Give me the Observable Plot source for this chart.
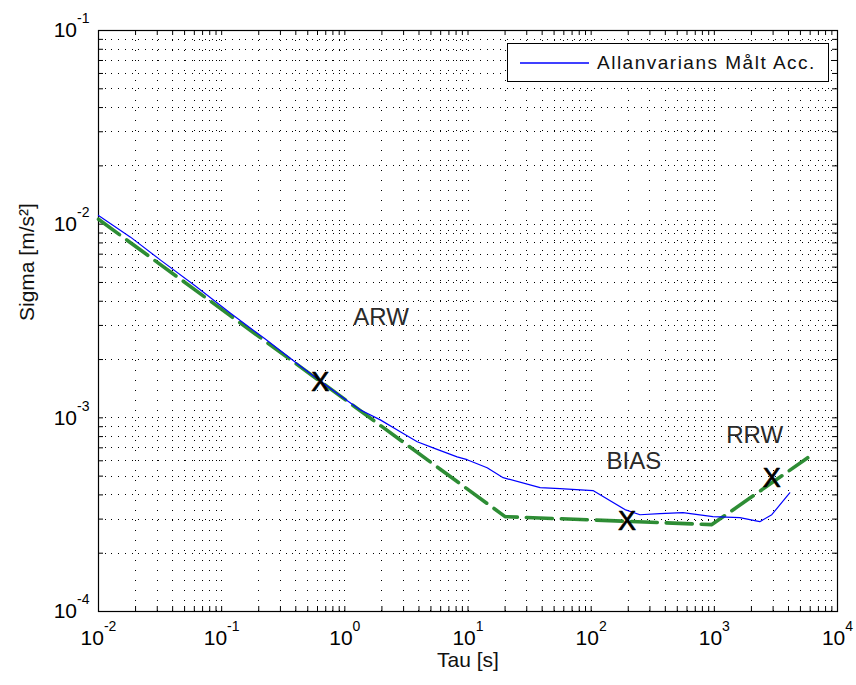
<!DOCTYPE html>
<html>
<head>
<meta charset="utf-8">
<script src="https://cdn.jsdelivr.net/npm/d3@7"></script>
<script src="https://cdn.jsdelivr.net/npm/@observablehq/plot@0.6"></script>
<style>
  html, body { margin: 0; padding: 0; background: #fff; }
  #chart { position: relative; width: 856px; height: 685px; font-family: "Liberation Sans", Arial, sans-serif; }
  #legend {
    position: absolute; left: 507px; top: 43px; width: 320px; height: 37px;
    background: #fff; border: 1px solid #000; display: flex; align-items: center;
  }
  #legend svg { margin-left: 12px; margin-right: 8px; }
  #legend span { font-size: 19px; letter-spacing: 1.5px; color: #111; }
</style>
</head>
<body>
<div id="chart"></div>
<script>
// Allan deviation of the measured accelerometer signal
const tauMeasured = [0.01, 0.0182, 0.0319, 0.0612, 0.118, 0.226, 0.435, 0.631, 0.918, 1.33,
  1.94, 2.82, 3.87, 5.21, 8.16, 9.84, 14.3, 19.3, 38.5, 55.8,
  103.5, 188, 249, 361, 556, 973, 1611, 2339, 2927, 4093];
const sigmaMeasured = [1.11e-2, 8.57e-3, 6.52e-3, 4.79e-3, 3.47e-3, 2.55e-3, 1.85e-3, 1.55e-3, 1.30e-3, 1.10e-3,
  9.76e-4, 8.47e-4, 7.52e-4, 7.00e-4, 6.29e-4, 6.08e-4, 5.52e-4, 4.91e-4, 4.36e-4, 4.31e-4,
  4.21e-4, 3.36e-4, 3.16e-4, 3.20e-4, 3.24e-4, 3.09e-4, 3.05e-4, 2.91e-4, 3.16e-4, 4.10e-4];

// Piecewise noise model (ARW slope, bias floor, rate random walk)
const tauModel = [0.01, 20, 955, 5730];
const sigmaModel = [1.06e-2, 3.09e-4, 2.81e-4, 6.22e-4];

// Points picked on the model
const markTau = [0.631, 195, 2924];
const markSigma = [1.53e-3, 2.91e-4, 4.85e-4];

// Region names
const regionNames = ["ARW", "BIAS", "RRW"];
const regionTau = [1.97, 222, 2128];
const regionSigma = [3.32e-3, 5.93e-4, 8.17e-4];

// Axis ticks (decades and their minor subdivisions)
const xDecades = [1e-2, 1e-1, 1e0, 1e1, 1e2, 1e3, 1e4];
const yDecades = [1e-4, 1e-3, 1e-2, 1e-1];
const subdivisions = [1, 2, 3, 4, 5, 6, 7, 8, 9];

const minorOf = (decades) => decades.flatMap((d, i) => i === decades.length - 1 ? [d] : subdivisions.map(k => k * d));
const xAll = minorOf(xDecades);
const yAll = minorOf(yDecades);

const measured = tauMeasured.map((t, i) => ({tau: t, sigma: sigmaMeasured[i]}));
const model = tauModel.map((t, i) => ({tau: t, sigma: sigmaModel[i]}));
const marks = markTau.map((t, i) => ({tau: t, sigma: markSigma[i]}));
const regions = regionNames.map((n, i) => ({name: n, tau: regionTau[i], sigma: regionSigma[i]}));

const W = 856, H = 685;
const mL = 98, mR = 19, mT = 30, mB = 74;
const innerW = W - mL - mR, innerH = H - mT - mB;
const tick = 5;
const expFormat = d => "10^" + Math.round(Math.log10(d));

const chart = Plot.plot({
  width: W,
  height: H,
  marginLeft: mL,
  marginRight: mR,
  marginTop: mT,
  marginBottom: mB,
  style: {fontFamily: '"Liberation Sans", Arial, sans-serif', background: "#fff", color: "#000"},
  x: {type: "log", domain: [1e-2, 1e4]},
  y: {type: "log", domain: [1e-4, 1e-1]},
  marks: [
    // dotted grid
    Plot.ruleX(xAll, {x: d => d, stroke: "#000", strokeWidth: 1, strokeDasharray: "1,9", shapeRendering: "crispEdges"}),
    Plot.ruleY(yAll, {y: d => d, stroke: "#000", strokeWidth: 1, strokeDasharray: "1,5.7", shapeRendering: "crispEdges"}),
    Plot.frame({stroke: "#000", strokeWidth: 1.2}),
    // inward ticks on all four sides
    Plot.tickX(xAll, {x: d => d, insetTop: innerH - tick, stroke: "#000"}),
    Plot.tickX(xAll, {x: d => d, insetBottom: innerH - tick, stroke: "#000"}),
    Plot.tickY(yAll, {y: d => d, insetRight: innerW - tick, stroke: "#000"}),
    Plot.tickY(yAll, {y: d => d, insetLeft: innerW - tick, stroke: "#000"}),
    // tick labels
    Plot.axisX({ticks: xDecades, tickFormat: expFormat, tickSize: 0, tickPadding: 19, fontSize: 21, label: null}),
    Plot.axisY({ticks: yDecades, tickFormat: expFormat, tickSize: 0, tickPadding: 9, fontSize: 21, label: null}),
    // data
    Plot.line(model, {x: "tau", y: "sigma", stroke: "#23872a", strokeWidth: 3.6, strokeDasharray: "26,9", strokeOpacity: 0.95}),
    Plot.line(measured, {x: "tau", y: "sigma", stroke: "#0000ff", strokeWidth: 1.2}),
    Plot.text(marks, {x: "tau", y: "sigma", text: () => "X", fontSize: 27, fill: "#000", stroke: "#000", strokeWidth: 0.7}),
    Plot.text(regions, {x: "tau", y: "sigma", text: "name", fontSize: 24, fill: "#2a2a2a"}),
    // axis titles
    Plot.text(["Tau [s]"], {frameAnchor: "bottom", dy: 55, text: d => d, fontSize: 21, fill: "#111"}),
    Plot.text(["Sigma [m/s²]"], {frameAnchor: "left", dx: -71, rotate: -90, text: d => d, fontSize: 21, fill: "#111"})
  ]
});

// turn "10^k" tick labels into a base with a raised exponent
d3.select(chart)
  .selectAll('[aria-label="x-axis tick label"] text, [aria-label="y-axis tick label"] text')
  .each(function () {
    const parts = this.textContent.split("^");
    if (parts.length !== 2) return;
    this.textContent = parts[0];
    d3.select(this).append("tspan").attr("dy", -14).attr("font-size", 14).text(parts[1]);
  });

const root = document.getElementById("chart");
root.appendChild(chart);

// legend
const legend = document.createElement("div");
legend.id = "legend";
legend.innerHTML = '<svg width="69" height="4"><line x1="0" x2="69" y1="2" y2="2" stroke="#0000ff" stroke-width="1.5"/></svg><span>Allanvarians Målt Acc.</span>';
root.appendChild(legend);
</script>
</body>
</html>
